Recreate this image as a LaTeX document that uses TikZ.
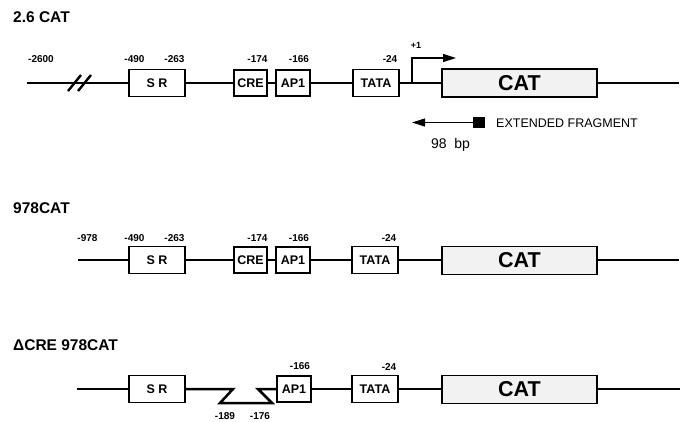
\documentclass[tikz,border=0pt]{standalone}
\usepackage{fontspec}
\setmainfont{Liberation Sans}
\usetikzlibrary{arrows.meta}
\begin{document}
\begin{tikzpicture}[x=1pt,y=-1pt,
  dna/.style={line width=2.2pt},
  elem/.style={draw, line width=1.3pt, fill=white, inner sep=0pt,
    font=\fontsize{12.5}{13}\selectfont\bfseries},
  srbox/.style={elem, minimum width=56pt, minimum height=27pt},
  crebox/.style={elem, minimum width=33pt, minimum height=26pt},
  apbox/.style={elem, minimum width=34pt, minimum height=26pt},
  tatabox/.style={elem, minimum width=46pt, minimum height=27pt},
  catbox/.style={elem, fill=black!5, minimum width=155pt, minimum height=28pt,
    font=\fontsize{21.5}{22}\selectfont\bfseries},
  poslbl/.style={font=\fontsize{10}{10}\selectfont\bfseries, inner sep=0pt},
  titlelbl/.style={font=\fontsize{15.5}{16}\selectfont\bfseries, anchor=west, inner sep=0pt},
  arrtip/.style={-{Triangle[length=13pt,width=8pt]}},
  txtlbl/.style={inner sep=0pt}
]
\useasboundingbox (0,0) rectangle (687,421);

% ---------- Row 1: 2.6 CAT ----------
\node[titlelbl] (t1) at (13,17) {2.6 CAT};
\coordinate (s1) at (27,83);
\coordinate (e1) at (679,83);
\node[srbox] (sr1) at (157,83) {S R};
\node[crebox] (cre1) at (250.5,83) {CRE};
\node[apbox] (ap1) at (293,83) {AP1};
\node[tatabox] (tata1) at (376,83) {TATA};
\node[catbox] (cat1) at (519.5,83) {CAT};
\draw[dna] (s1) -- (sr1.west);
\draw[dna] (sr1.east) -- (cre1.west);
\draw[dna] (cre1.east) -- (ap1.west);
\draw[dna] (ap1.east) -- (tata1.west);
\draw[dna] (tata1.east) -- (cat1.west);
\draw[dna] (cat1.east) -- (e1);
% break marks
\coordinate (b1a) at (68,91); \coordinate (b1b) at (81,75);
\coordinate (b2a) at (78,91); \coordinate (b2b) at (91,75);
\draw[line width=2.4pt] (b1a) -- (b1b);
\draw[line width=2.4pt] (b2a) -- (b2b);
% labels
\node[poslbl] (l2600) at (41,59) {-2600};
\node[poslbl] (l490a) at (134.5,59) {-490};
\node[poslbl] (l263a) at (174.5,59) {-263};
\node[poslbl] (l174a) at (257.5,59) {-174};
\node[poslbl] (l166a) at (299,59) {-166};
\node[poslbl] (l24a) at (390,59) {-24};
\node[poslbl, font=\fontsize{9}{9}\selectfont\bfseries] (lp1) at (416,45) {+1};
% transcription start
\coordinate (tss) at (412,83);
\coordinate (tssend) at (456,58);
\draw[line width=1.1pt, arrtip] (tss) |- (tssend);
% extended fragment
\node[fill=black, minimum width=12pt, minimum height=11pt, inner sep=0pt] (efsq) at (479,122.5) {};
\coordinate (eftip) at (412,122.5);
\draw[line width=1.1pt, arrtip] (efsq.west) -- (eftip);
\node[txtlbl, anchor=west, font=\fontsize{12.5}{13}\selectfont] (eftxt) at (496,123) {EXTENDED FRAGMENT};
\node[txtlbl, font=\fontsize{14}{14}\selectfont] (bp) at (450.5,145) {98\ \ bp};

% ---------- Row 2: 978CAT ----------
\node[titlelbl] (t2) at (13,208) {978CAT};
\coordinate (s2) at (78,260);
\coordinate (e2) at (679,260);
\node[srbox] (sr2) at (157,260) {S R};
\node[crebox] (cre2) at (250.5,260) {CRE};
\node[apbox] (ap2) at (293,260) {AP1};
\node[tatabox] (tata2) at (375,260) {TATA};
\node[catbox] (cat2) at (519.5,260.5) {CAT};
\draw[dna] (s2) -- (sr2.west);
\draw[dna] (sr2.east) -- (cre2.west);
\draw[dna] (cre2.east) -- (ap2.west);
\draw[dna] (ap2.east) -- (tata2.west);
\draw[dna] (tata2.east) -- (cat2.west |- tata2.east);
\draw[dna] (cat2.east |- e2) -- (e2);
\node[poslbl] (l978) at (87.5,238) {-978};
\node[poslbl] (l490b) at (134.5,238) {-490};
\node[poslbl] (l263b) at (174.5,238) {-263};
\node[poslbl] (l174b) at (257.5,238) {-174};
\node[poslbl] (l166b) at (299,238) {-166};
\node[poslbl] (l24b) at (389,238) {-24};

% ---------- Row 3: Delta CRE 978CAT ----------
\node[titlelbl] (t3) at (13,345) {ΔCRE 978CAT};
\coordinate (s3) at (77,389);
\coordinate (e3) at (680,389);
\node[srbox] (sr3) at (157,389) {S R};
\node[apbox] (ap3) at (294,389) {AP1};
\node[tatabox] (tata3) at (375,389) {TATA};
\node[catbox] (cat3) at (519.5,389.5) {CAT};
\draw[dna] (s3) -- (sr3.west);
\coordinate (d1) at (233,389);
\coordinate (d2) at (220,403);
\coordinate (d3) at (272,403);
\coordinate (d4) at (258,389);
\draw[dna, line width=2.5pt, line join=miter] (sr3.east) -- (d1) -- (d2) -- (d3) -- (d4) -- (ap3.west);
\draw[dna] (ap3.east) -- (tata3.west);
\draw[dna] (tata3.east) -- (cat3.west |- tata3.east);
\draw[dna] (cat3.east |- e3) -- (e3);
\node[poslbl] (l166c) at (300,366) {-166};
\node[poslbl] (l24c) at (389,367) {-24};
\node[poslbl] (l189) at (225,416) {-189};
\node[poslbl] (l176) at (260,416) {-176};
\end{tikzpicture}
\end{document}
